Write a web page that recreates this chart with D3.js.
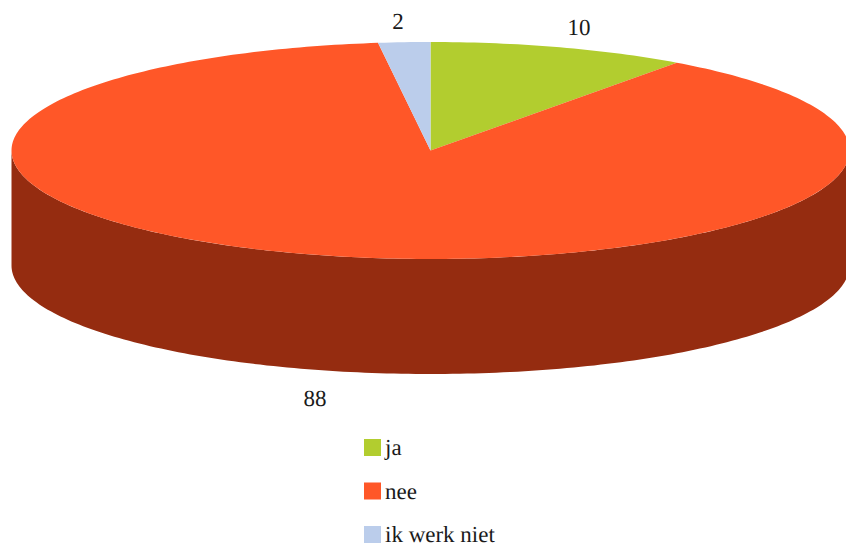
<!DOCTYPE html>
<html>
<head>
<meta charset="utf-8">
<script src="https://cdn.jsdelivr.net/npm/d3@7"></script>
<style>html,body{margin:0;padding:0;background:#fff;overflow:hidden}svg{display:block}text{font-family:"Liberation Serif",serif;font-size:23px;fill:#1a1a1a;text-rendering:geometricPrecision}</style>
</head>
<body>
<svg width="846" height="546"></svg>
<script>
const categories = ["ja", "nee", "ik werk niet"];
const values = [10, 88, 2];
const colors = ["#b2cd2f", "#ff5728", "#bbcdeb"];
const sideColor = "#952c10";

const cx = 430.5, cy = 150.5, rx = 419, ry = 108.5, depth = 115;
const svg = d3.select("svg");
const x = d3.scaleLinear().domain([-1, 1]).range([cx - rx, cx + rx]);
const y = d3.scaleLinear().domain([-1, 1]).range([cy - ry, cy + ry]);
const pt = a => [x(Math.sin(a)), y(-Math.cos(a))];
const pie = d3.pie().value(d => d).sort(null);
const arcs = pie(values);
const line = d3.line();

// visible wall: the front half of the rim, extruded downward
const front = d3.range(Math.PI / 2, 3 * Math.PI / 2 + 0.001, Math.PI / 180);
const wall = front.map(pt).concat(front.slice().reverse().map(a => { const p = pt(a); return [p[0], p[1] + depth]; }));
svg.append("path").attr("d", line(wall) + "Z").attr("fill", sideColor);

// top face
svg.selectAll("path.top").data(arcs).join("path").attr("class", "top")
  .attr("fill", (d, i) => colors[i])
  .attr("d", d => {
    const n = Math.max(4, Math.ceil((d.endAngle - d.startAngle) * 180 / Math.PI));
    const pts = d3.range(n + 1).map(k => pt(d.startAngle + (d.endAngle - d.startAngle) * k / n));
    return line([[x(0), y(0)], ...pts]) + "Z";
  });

// data labels
const labelPos = [[579, 35], [315, 406], [398, 29]];
svg.selectAll("text.val").data(values).join("text").attr("class", "val")
  .attr("text-anchor", "middle")
  .attr("x", (d, i) => labelPos[i][0]).attr("y", (d, i) => labelPos[i][1])
  .text(d => d);

// legend
const ly = d3.scalePoint().domain(categories).range([448, 535]);
const lg = svg.selectAll("g.lg").data(categories).join("g").attr("class", "lg")
  .attr("transform", d => `translate(364,${ly(d)})`);
lg.append("rect").attr("x", 0).attr("y", -9).attr("width", 17).attr("height", 17)
  .attr("fill", (d, i) => colors[i]);
lg.append("text").attr("x", 21).attr("y", 7).text(d => d);
</script>
</body>
</html>
